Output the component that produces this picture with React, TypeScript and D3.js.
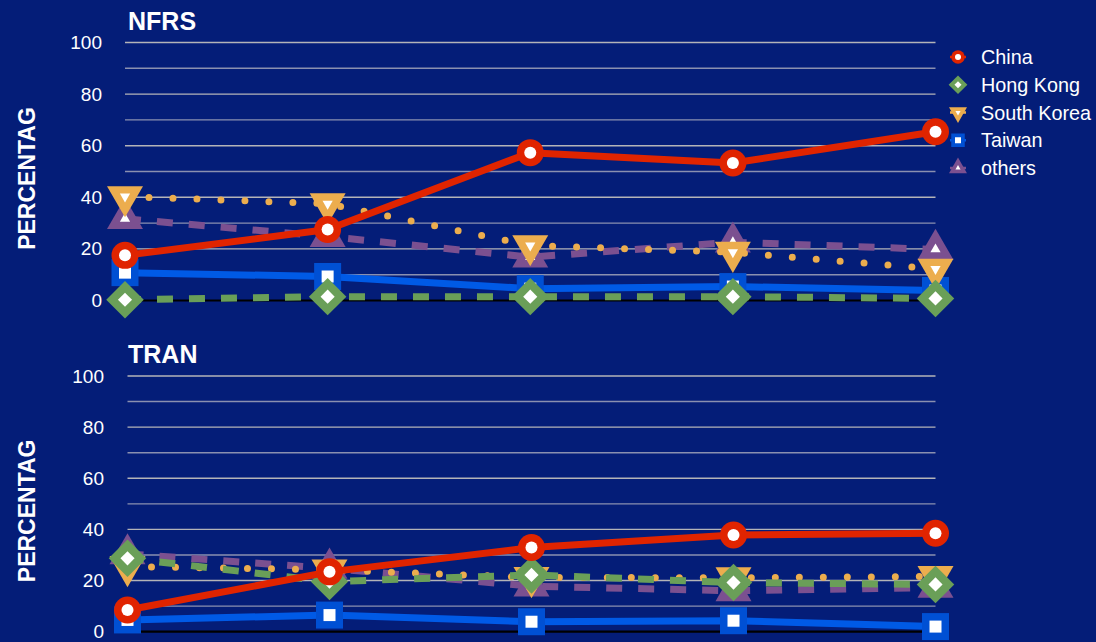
import React from "react";
import * as d3 from "d3";

const categories = ["P1", "P2", "P3", "P4", "P5"];
const seriesNames = ["China", "Hong Kong", "South Korea", "Taiwan", "others"];
const yTicks = [0, 20, 40, 60, 80, 100];
const gridValues = [10, 20, 30, 40, 50, 60, 70, 80, 90, 100];

const nfrsChina = [17.5, 27.5, 57.3, 53.3, 65.4];
const nfrsHongKong = [0.3, 1.5, 1.5, 1.5, 0.8];
const nfrsSouthKorea = [40.3, 37.5, 21.3, 18.7, 12.2];
const nfrsTaiwan = [10.8, 9.3, 4.6, 5.4, 3.9];
const nfrsOthers = [31.7, 24.8, 16.8, 22.6, 19.8];

const tranChina = [8.5, 23.4, 32.9, 37.8, 38.5];
const tranHongKong = [28.7, 19.6, 22.2, 19.2, 18.5];
const tranSouthKorea = [25.5, 24.2, 21.2, 21.1, 21.6];
const tranTaiwan = [4.6, 6.5, 3.9, 4.3, 2.0];
const tranOthers = [30.4, 24.8, 17.8, 16.0, 17.3];

const FONT = "'Liberation Sans', Arial, Helvetica, sans-serif";
const BG = "#041d78";

type Style = { color: string; dash?: string; cap?: string; marker: string };
const styles: Record<string, Style> = {
  China: { color: "#e02400", marker: "circle" },
  "Hong Kong": { color: "#6a9f58", dash: "16 16", marker: "diamond" },
  "South Korea": { color: "#ecad4e", dash: "0 24", cap: "round", marker: "triDown" },
  Taiwan: { color: "#005ae6", marker: "square" },
  others: { color: "#7b5090", dash: "16 16", marker: "triUp" },
};
// draw order
const drawOrder = ["Taiwan", "others", "South Korea", "Hong Kong", "China"];

function Marker({ kind, color, s }: { kind: string; color: string; s: number }) {
  const sym = (t: any, size: number) => d3.symbol().type(t).size(size)() as string;
  if (kind === "circle") {
    return (
      <g>
        <circle r={13.5 * s} fill={color} />
        <circle r={6 * s} fill="#fff" />
      </g>
    );
  }
  if (kind === "diamond") {
    return (
      <g transform="rotate(45)">
        <path d={sym(d3.symbolSquare, 26.5 * 26.5 * s * s)} fill={color} />
        <path d={sym(d3.symbolSquare, 10 * 10 * s * s)} fill="#fff" />
      </g>
    );
  }
  if (kind === "square") {
    return (
      <g>
        <path d={sym(d3.symbolSquare, 27 * 27 * s * s)} fill="#0050d4" />
        <path d={sym(d3.symbolSquare, 12 * 12 * s * s)} fill="#fff" />
      </g>
    );
  }
  const rot = kind === "triDown" ? "rotate(180)" : "";
  return (
    <g transform={rot}>
      <path d={sym(d3.symbolTriangle, 561 * s * s)} fill={color} />
      <path d={sym(d3.symbolTriangle, 45 * s * s)} fill="#fff" />
    </g>
  );
}

function Panel({
  title,
  data,
  xRange,
  yRange,
  titleY,
  tickRight,
}: {
  title: string;
  data: Record<string, number[]>;
  xRange: [number, number];
  yRange: [number, number];
  titleY: number;
  tickRight: number;
}) {
  const x = d3.scalePoint<string>().domain(categories).range(xRange);
  const y = d3.scaleLinear().domain([0, 100]).range(yRange);
  const line = d3
    .line<number>()
    .x((_, i) => x(categories[i]) as number)
    .y((d) => y(d));
  const gx0 = xRange[0];
  const gx1 = xRange[1];
  const midY = (yRange[0] + yRange[1]) / 2 + 7;
  return (
    <g>
      <text x={128} y={titleY} fill="#fff" fontFamily={FONT} fontWeight="bold" fontSize={25}>
        {title}
      </text>
      <text
        transform={`translate(27,${midY}) rotate(-90)`}
        textAnchor="middle"
        dominantBaseline="central"
        fill="#fff"
        fontFamily={FONT}
        fontWeight="bold"
        fontSize={23}
      >
        PERCENTAG
      </text>
      {gridValues.map((v) => (
        <line
          key={v}
          x1={gx0}
          x2={gx1}
          y1={y(v)}
          y2={y(v)}
          stroke={v % 20 === 0 ? "#b4b4b8" : "#8a90b0"}
          strokeWidth={1.4}
        />
      ))}
      <line x1={gx0} x2={gx1} y1={y(0)} y2={y(0)} stroke="#000" strokeWidth={2.2} />
      {yTicks.map((v) => (
        <text
          key={v}
          x={tickRight}
          y={y(v)}
          textAnchor="end"
          dominantBaseline="central"
          fill="#fff"
          fontFamily={FONT}
          fontSize={19}
        >
          {v}
        </text>
      ))}
      {drawOrder.map((name) => {
        const st = styles[name];
        const vals = data[name];
        return (
          <g key={name}>
            <path
              d={line(vals) as string}
              fill="none"
              stroke={st.color}
              strokeWidth={7}
              strokeDasharray={st.dash}
              strokeLinecap={(st.cap as any) || "butt"}
              strokeLinejoin="round"
            />
            {vals.map((v, i) => (
              <g key={i} transform={`translate(${x(categories[i])},${y(v)})`}>
                <Marker kind={st.marker} color={st.color} s={1} />
              </g>
            ))}
          </g>
        );
      })}
    </g>
  );
}

export default function App() {
  const nfrs: Record<string, number[]> = {
    China: nfrsChina,
    "Hong Kong": nfrsHongKong,
    "South Korea": nfrsSouthKorea,
    Taiwan: nfrsTaiwan,
    others: nfrsOthers,
  };
  const tran: Record<string, number[]> = {
    China: tranChina,
    "Hong Kong": tranHongKong,
    "South Korea": tranSouthKorea,
    Taiwan: tranTaiwan,
    others: tranOthers,
  };
  const legendY = d3.scalePoint<string>().domain(seriesNames).range([57, 168]);
  return (
    <svg
      width={1096}
      height={642}
      style={{ position: "absolute", left: 0, top: 0, display: "block" }}
    >
      <rect x={0} y={0} width={1096} height={642} fill={BG} />
      <Panel title="NFRS" data={nfrs} xRange={[125, 935.5]} yRange={[300.5, 42.5]} titleY={30} tickRight={102} />
      <Panel title="TRAN" data={tran} xRange={[127.5, 935.5]} yRange={[631.7, 376]} titleY={362.5} tickRight={104} />
      {seriesNames.map((name) => {
        const st = styles[name];
        const ly = legendY(name) as number;
        return (
          <g key={name} transform={`translate(958,${ly})`}>
            <line x1={-8} x2={8} y1={0} y2={0} stroke={st.color} strokeWidth={2.5} />
            <Marker kind={st.marker} color={st.color} s={0.5} />
            <text
              x={23}
              y={0}
              dominantBaseline="central"
              fill="#fff"
              fontFamily={FONT}
              fontSize={19.8}
            >
              {name}
            </text>
          </g>
        );
      })}
    </svg>
  );
}
